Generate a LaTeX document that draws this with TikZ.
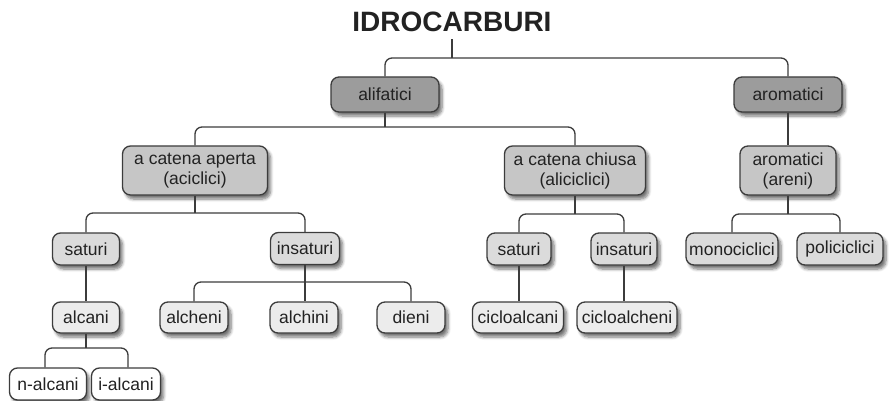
\documentclass[tikz,border=0pt]{standalone}
\usepackage{fontspec}
\setmainfont{Liberation Sans}
\usetikzlibrary{shadows.blur}

\definecolor{lineg}{HTML}{3C3C3C}
\definecolor{textg}{HTML}{222222}
\definecolor{fillA}{HTML}{9C9C9C}
\definecolor{fillB}{HTML}{C6C6C6}
\definecolor{fillC}{HTML}{DBDBDB}
\definecolor{fillD}{HTML}{ECECEC}

\begin{document}
\begin{tikzpicture}[x=1pt,y=-1pt,
    box/.style={draw=lineg, line width=1.3pt, rounded corners=8pt, text=textg,
        font=\fontsize{17.5}{20}\selectfont, align=center,
        minimum width=67pt, minimum height=32pt, inner xsep=3pt, inner ysep=2pt,
        blur shadow={shadow xshift=3pt, shadow yshift=-4pt, shadow opacity=55,
            shadow blur radius=3pt, shadow blur steps=6}},
    lev1/.style={box, fill=fillA, minimum width=108pt, minimum height=35pt},
    lev2/.style={box, fill=fillB, minimum height=49pt},
    lev3/.style={box, fill=fillC},
    lev4/.style={box, fill=fillD, minimum height=31pt},
    lev5/.style={box, fill=white},
    link/.style={draw=lineg, line width=1.3pt, rounded corners=7pt}]
    \useasboundingbox (0,0) rectangle (889,401);

    % Title
    \node[text=textg, font=\bfseries\fontsize{28}{30}\selectfont] (idro) at (452,22) {IDROCARBURI};

    % First level
    \node[lev1] (alif) at (385,94.5) {alifatici};
    \node[lev1] (arom) at (788,94.5) {aromatici};

    % Second level
    \node[lev2, minimum width=145pt] (aperta) at (195,170.5) {a catena aperta\\(aciclici)};
    \node[lev2, minimum width=141pt] (chiusa) at (575,170.5) {a catena chiusa\\(aliciclici)};
    \node[lev2, minimum width=96pt] (areni) at (788,170.5) {aromatici\\(areni)};

    % Third level
    \node[lev3] (sat1) at (86,249) {saturi};
    \node[lev3, minimum width=69pt] (ins1) at (305,248.5) {insaturi};
    \node[lev3, minimum width=64pt] (sat2) at (519,249) {saturi};
    \node[lev3, minimum width=66pt] (ins2) at (624,249) {insaturi};
    \node[lev3, minimum width=92pt] (mono) at (732,249) {monociclici};
    \node[lev3, minimum width=86pt] (poli) at (840,249) {policiclici};

    % Fourth level
    \node[lev4] (alcani) at (86,317.5) {alcani};
    \node[lev4, minimum width=68pt] (alcheni) at (194,317.5) {alcheni};
    \node[lev4, minimum width=68pt] (alchini) at (304,317.5) {alchini};
    \node[lev4, minimum width=68pt] (dieni) at (411,317.5) {dieni};
    \node[lev4, minimum width=91pt] (cicloalc) at (518,317.5) {cicloalcani};
    \node[lev4, minimum width=100pt] (cicloalch) at (627,317.5) {cicloalcheni};

    % Fifth level
    \node[lev5, minimum width=77pt] (nalc) at (48,384) {n-alcani};
    \node[lev5, minimum width=69pt] (ialc) at (126,384) {i-alcani};

    % Junctions
    \coordinate (j0) at (452,58);
    \coordinate (j1) at (385,127);
    \coordinate (j2) at (195,213);
    \coordinate (j3) at (575,214);
    \coordinate (j4) at (788,214);
    \coordinate (j5) at (305,282);
    \coordinate (j6) at (86,348);

    % idrocarburi -> alifatici, aromatici
    \draw[link] ([yshift=-4pt]idro.south) -- (j0);
    \draw[link] (alif.north) -- (alif.north |- j0) -- (arom.north |- j0) -- (arom.north);

    % alifatici -> aperta, chiusa
    \draw[link] (alif.south) -- (j1);
    \draw[link] (aperta.north) -- (aperta.north |- j1) -- (chiusa.north |- j1) -- (chiusa.north);

    % aromatici -> areni
    \draw[link] (arom.south) -- (areni.north);

    % aperta -> saturi, insaturi
    \draw[link] (aperta.south) -- (j2);
    \draw[link] (sat1.north) -- (sat1.north |- j2) -- (ins1.north |- j2) -- (ins1.north);

    % chiusa -> saturi, insaturi
    \draw[link] (chiusa.south) -- (j3);
    \draw[link] (sat2.north) -- (sat2.north |- j3) -- (ins2.north |- j3) -- (ins2.north);

    % areni -> mono, poli
    \draw[link] (areni.south) -- (j4);
    \draw[link] (mono.north) -- (mono.north |- j4) -- (poli.north |- j4) -- (poli.north);

    % saturi -> alcani -> n/i
    \draw[link] (sat1.south) -- (alcani.north);
    \draw[link] (alcani.south) -- (j6);
    \draw[link] ([xshift=-3pt]nalc.north) -- ([xshift=-3pt]nalc.north |- j6) -- ([xshift=2pt]ialc.north |- j6) -- ([xshift=2pt]ialc.north);

    % insaturi -> alcheni, alchini, dieni
    \draw[link] (ins1.south) -- (ins1.south |- alchini.north);
    \draw[link] (alcheni.north) -- (alcheni.north |- j5) -- (dieni.north |- j5) -- (dieni.north);

    % cyclic ones
    \draw[link] (sat2.south) -- (sat2.south |- cicloalc.north);
    \draw[link] (ins2.south) -- (ins2.south |- cicloalch.north);
\end{tikzpicture}
\end{document}
